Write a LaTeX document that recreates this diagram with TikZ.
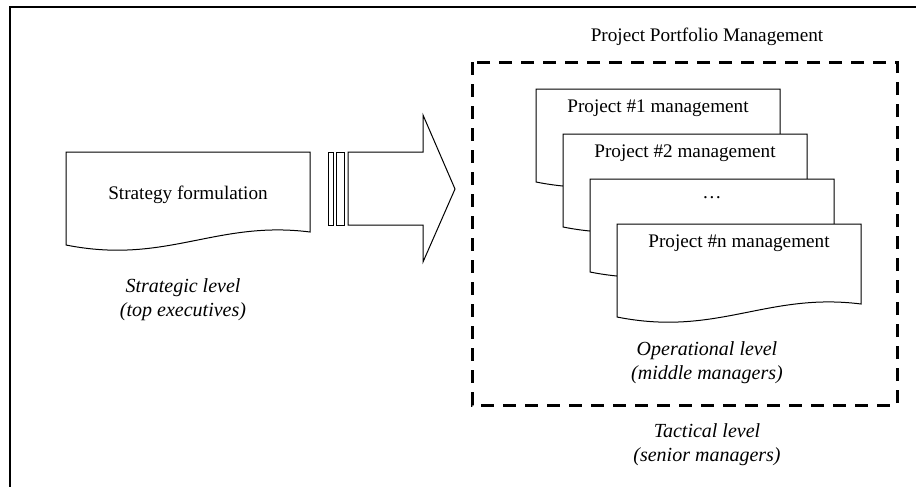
\documentclass[tikz,border=0pt]{standalone}
\usepackage{fontspec}
\setmainfont{Liberation Serif}
\usetikzlibrary{positioning}

\tikzset{
  docline/.style={draw=black, line width=0.5pt, fill=white},
  doctext/.style={inner sep=0pt},
  lvltext/.style={align=center, font=\itshape, inner sep=0pt},
  portfolio/.style={draw=black, line width=1.5pt, dash pattern=on 6.5pt off 4.5pt},
}

\newcommand{\projdoc}[5]{%
  \begin{scope}[shift={(#2,#3)}]
    \draw[docline] (0,0) -- (244,0) -- (244,80)
      .. controls (150,68) and (100,113) .. (0,93) -- cycle;
    \node[doctext] (#1) at (122,#4) {#5};
  \end{scope}}

\begin{document}
\begin{tikzpicture}[x=0.5pt, y=-0.5pt, font=\fontsize{9.6}{11.5}\selectfont]
  \useasboundingbox (0,0) rectangle (916,487);
  \draw[line width=1pt] (916,7) -- (9.5,7) -- (9.5,487);

  \projdoc{strategy}{66}{152}{43}{Strategy formulation}
  \node[lvltext] (strlevel) at (183,300) {Strategic level\\(top executives)};

  \draw[docline] (328,152) rectangle (333,225);
  \draw[docline] (336,152) rectangle (344,225);
  \draw[docline] (348,152) -- (423,152) -- (423,115) -- (455,189)
    -- (423,262) -- (423,225) -- (348,225) -- cycle;

  \node[doctext] (ppm) at (707,37) {Project Portfolio Management};
  \draw[portfolio] (472,62) rectangle (897,405);

  \projdoc{proj1}{536}{89}{19}{Project \#1 management}
  \projdoc{proj2}{563}{134}{19}{Project \#2 management}
  \projdoc{proj3}{590}{179}{19}{\dots}
  \projdoc{projn}{617}{224}{19}{Project \#n management}

  \node[lvltext] (oplevel) at (707,363) {Operational level\\(middle managers)};
  \node[lvltext] (taclevel) at (707,445) {Tactical level\\(senior managers)};
\end{tikzpicture}
\end{document}
